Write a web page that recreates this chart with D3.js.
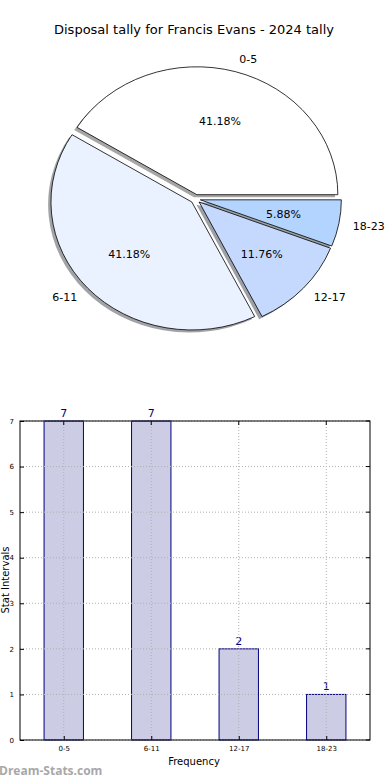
<!DOCTYPE html>
<html><head><meta charset="utf-8">
<script src="https://cdn.jsdelivr.net/npm/d3@7"></script>
<style>body{margin:0;background:#fff}svg{display:block;font-family:"DejaVu Sans",sans-serif}</style>
</head><body>
<svg id="c" width="390" height="780"></svg>
<script>
const categories = ["0-5","6-11","12-17","18-23"];
const values = [7,7,2,1];
const pieColors = ["#ffffff","#eaf1ff","#c5d9ff","#b2d4ff"];
const yTicks = [0,1,2,3,4,5,6,7];
const title = "Disposal tally for Francis Evans - 2024 tally";

const svg = d3.select("#c");
svg.append("text").attr("x",194).attr("y",34).attr("text-anchor","middle")
  .attr("font-size",13).text(title);

// ---- pie ----
const cx = 195.5, cy = 199, rx = 141, ry = 128, explode = 0.035;
const total = d3.sum(values);
const pie = d3.pie().sort(null).startAngle(Math.PI/2).endAngle(Math.PI/2 - 2*Math.PI);
const arcs = pie(values);
const arc = d3.arc().innerRadius(0).outerRadius(1);
const gp = svg.append("g");
function off(d, k){ const a=(d.startAngle+d.endAngle)/2; return [Math.sin(a)*k*rx, -Math.cos(a)*k*ry]; }
arcs.forEach((d,i)=>{
  const o = off(d, explode);
  const c = d3.color(pieColors[i]);
  const sc = d3.rgb(c.r*0.3, c.g*0.3, c.b*0.3);
  gp.append("path").attr("d", arc(d))
    .attr("transform", `translate(${cx+o[0]-0.02*rx},${cy+o[1]+0.02*ry}) scale(${rx},${ry})`)
    .attr("fill", sc).attr("fill-opacity",0.5).attr("stroke","none");
});
arcs.forEach((d,i)=>{
  const o = off(d, explode);
  gp.append("path").attr("d", arc(d))
    .attr("transform", `translate(${cx+o[0]},${cy+o[1]}) scale(${rx},${ry})`)
    .attr("fill", pieColors[i]).attr("stroke","#000").attr("stroke-width",0.8)
    .attr("vector-effect","non-scaling-stroke").attr("stroke-linejoin","round");
  const a=(d.startAngle+d.endAngle)/2;
  const lx = cx+o[0]+Math.sin(a)*1.1*rx, ly = cy+o[1]-Math.cos(a)*1.1*ry;
  gp.append("text").attr("x",lx).attr("y",ly).attr("dy","0.35em")
    .attr("text-anchor", Math.sin(a)>0 ? "start":"end").attr("font-size",11)
    .text(categories[i]);
  const px = cx+o[0]+Math.sin(a)*0.6*rx, py = cy+o[1]-Math.cos(a)*0.6*ry;
  gp.append("text").attr("x",px).attr("y",py).attr("dy","0.35em")
    .attr("text-anchor","middle").attr("font-size",11)
    .text((values[i]/total*100).toFixed(2)+"%");
});

// ---- bars ----
const L=20, R=370, T=421, B=740;
const x = d3.scaleLinear().domain([-0.5,3.5]).range([L,R]);
const y = d3.scaleLinear().domain([0,7]).range([B,T]);
const gb = svg.append("g");
const bw = 0.45;
categories.forEach((c,i)=>{
  gb.append("rect").attr("x",x(i-bw/2)).attr("y",y(values[i]))
    .attr("width",x(i+bw/2)-x(i-bw/2)).attr("height",y(0)-y(values[i]))
    .attr("fill","#ccccE5").attr("stroke","#000080").attr("stroke-width",1);
  gb.append("text").attr("x",x(i)).attr("y",y(values[i])-4).attr("text-anchor","middle")
    .attr("font-size",11).attr("fill","#000080").text(values[i]);
});
yTicks.forEach(t=>{
  gb.append("line").attr("x1",L).attr("x2",R).attr("y1",y(t)).attr("y2",y(t))
    .attr("stroke","#b0b0b0").attr("stroke-dasharray","1,2");
});
categories.forEach((c,i)=>{
  gb.append("line").attr("x1",x(i)).attr("x2",x(i)).attr("y1",T).attr("y2",B)
    .attr("stroke","#b0b0b0").attr("stroke-dasharray","1,2");
});
gb.append("rect").attr("x",L).attr("y",T).attr("width",R-L).attr("height",B-T)
  .attr("fill","none").attr("stroke","#000").attr("stroke-width",1);
const yAxis = d3.axisLeft(y).tickValues(yTicks).tickFormat(d3.format("d")).tickSize(-4).tickPadding(6);
const ya = gb.append("g").attr("transform",`translate(${L},0)`).call(yAxis);
const xAxis = d3.axisBottom(x).tickValues(d3.range(categories.length)).tickFormat(i=>categories[i]).tickSize(-4).tickPadding(6);
const xa = gb.append("g").attr("transform",`translate(0,${B})`).call(xAxis);
[ya,xa].forEach(g=>{
  g.select(".domain").remove();
  g.selectAll("text").attr("font-size",7).attr("font-family","DejaVu Sans").attr("fill","#000");
  g.selectAll("line").attr("stroke","#000");
});
yTicks.forEach(t=>{
  gb.append("line").attr("x1",R).attr("x2",R-4).attr("y1",y(t)).attr("y2",y(t)).attr("stroke","#000");
});
categories.forEach((c,i)=>{
  gb.append("line").attr("x1",x(i)).attr("x2",x(i)).attr("y1",T).attr("y2",T+4).attr("stroke","#000");
});
svg.append("text").attr("transform","translate(9,580) rotate(-90)").attr("text-anchor","middle")
  .attr("font-size",10).text("Stat Intervals");
svg.append("text").attr("x",194).attr("y",765).attr("text-anchor","middle")
  .attr("font-size",10).text("Frequency");
svg.append("text").attr("x",-1).attr("y",775).attr("font-size",12).attr("fill","#a8a8a8")
  .attr("font-weight","bold").attr("font-family","Open Sans, DejaVu Sans").text("Dream-Stats.com");
</script>
</body></html>
